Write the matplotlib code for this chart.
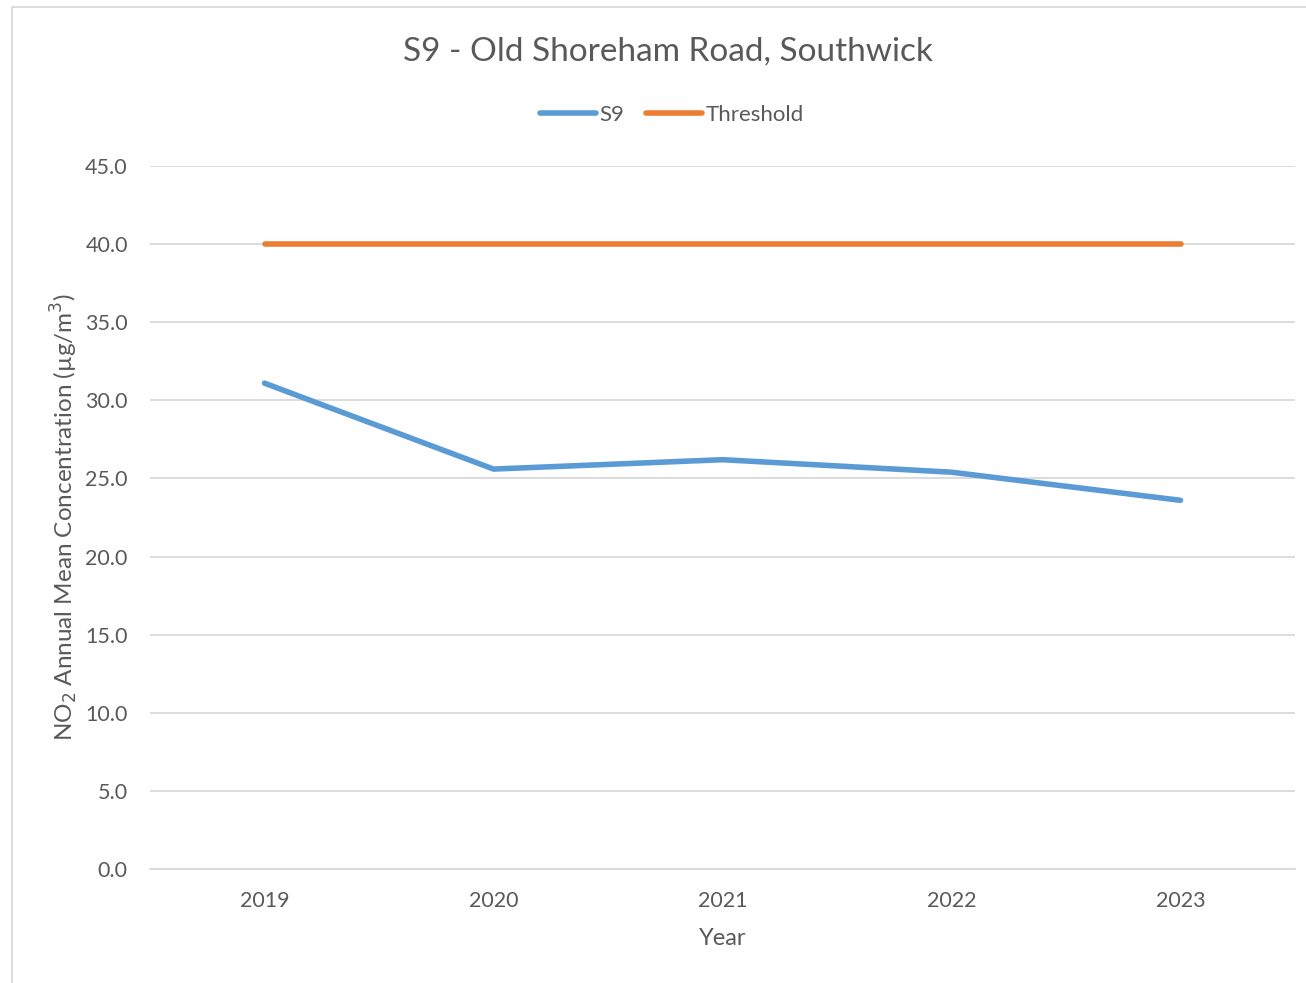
import matplotlib.pyplot as plt
from matplotlib.patches import Rectangle

# data
years = ['2019', '2020', '2021', '2022', '2023']
s9 = [31.1, 25.6, 26.2, 25.4, 23.6]
threshold = [40.0, 40.0, 40.0, 40.0, 40.0]

text_col = '#595959'
grid_col = '#D9D9D9'

plt.rcParams['font.family'] = ['Lato', 'DejaVu Sans']

fig = plt.figure(figsize=(13.06, 9.83), dpi=100)
ax = fig.add_axes([150 / 1306, 1 - 869 / 983, 1145 / 1306, 703 / 983])

x = list(range(len(years)))
ax.plot(x, s9, color='#5B9BD5', lw=4, solid_capstyle='round', label='S9')
ax.plot(x, threshold, color='#ED7D31', lw=4, solid_capstyle='round', label='Threshold')

ax.set_xlim(-0.5, len(years) - 0.5)
ax.set_ylim(0, 45)
ax.set_yticks([i * 5 for i in range(10)])
ax.set_yticklabels([f'{i * 5:.1f}' for i in range(10)])
ax.set_xticks(x)
ax.set_xticklabels(years)
ax.grid(axis='y', color=grid_col, lw=1.3)
ax.set_axisbelow(True)
for side in ['top', 'right', 'left']:
    ax.spines[side].set_visible(False)
ax.spines['bottom'].set_color(grid_col)
ax.spines['bottom'].set_linewidth(1.3)
ax.tick_params(length=0, colors=text_col, labelsize=15.5, pad=16)
ax.tick_params(axis='y', pad=16)

ax.set_xlabel('Year', color=text_col, fontsize=17, labelpad=12)
ax.set_ylabel(r'NO$_2$ Annual Mean Concentration (µg/m$^3$)', color=text_col, fontsize=17.5, labelpad=4)

fig.text(668 / 1306, 1 - 52 / 983, 'S9 - Old Shoreham Road, Southwick', ha='center', va='center',
         color=text_col, fontsize=24)

leg = fig.legend(loc='center', bbox_to_anchor=(672 / 1306, 1 - 115 / 983), ncol=2, frameon=False,
                 fontsize=16, handlelength=2.5, handletextpad=0.15, columnspacing=1.0)
for t in leg.get_texts():
    t.set_color(text_col)

fig.patches.append(Rectangle((12 / 1306, -0.01), 1.0, 1 - 7 / 983 + 0.01, transform=fig.transFigure,
                             fill=False, edgecolor=grid_col, lw=1.3))

fig.savefig('out.png', dpi=100)
